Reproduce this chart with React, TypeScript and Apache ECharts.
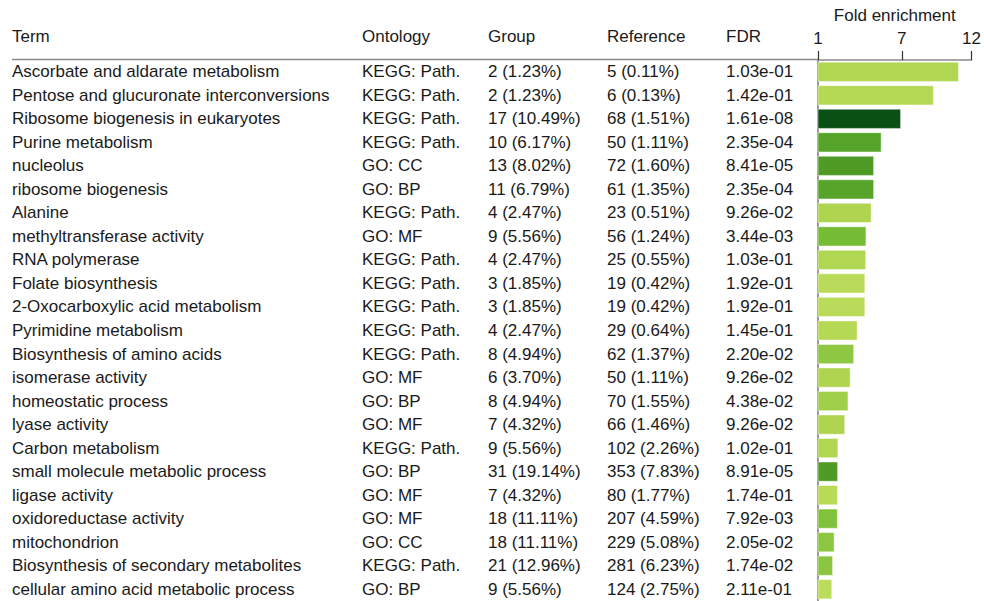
import React, { useEffect, useRef } from "react";
import * as echarts from "echarts";

const terms = [
  "Ascorbate and aldarate metabolism",
  "Pentose and glucuronate interconversions",
  "Ribosome biogenesis in eukaryotes",
  "Purine metabolism",
  "nucleolus",
  "ribosome biogenesis",
  "Alanine",
  "methyltransferase activity",
  "RNA polymerase",
  "Folate biosynthesis",
  "2-Oxocarboxylic acid metabolism",
  "Pyrimidine metabolism",
  "Biosynthesis of amino acids",
  "isomerase activity",
  "homeostatic process",
  "lyase activity",
  "Carbon metabolism",
  "small molecule metabolic process",
  "ligase activity",
  "oxidoreductase activity",
  "mitochondrion",
  "Biosynthesis of secondary metabolites",
  "cellular amino acid metabolic process",
];

const ontologies = [
  "KEGG: Path.", "KEGG: Path.", "KEGG: Path.", "KEGG: Path.", "GO: CC", "GO: BP",
  "KEGG: Path.", "GO: MF", "KEGG: Path.", "KEGG: Path.", "KEGG: Path.", "KEGG: Path.",
  "KEGG: Path.", "GO: MF", "GO: BP", "GO: MF", "KEGG: Path.", "GO: BP", "GO: MF",
  "GO: MF", "GO: CC", "KEGG: Path.", "GO: BP",
];

const groupCounts = [
  "2 (1.23%)", "2 (1.23%)", "17 (10.49%)", "10 (6.17%)", "13 (8.02%)", "11 (6.79%)",
  "4 (2.47%)", "9 (5.56%)", "4 (2.47%)", "3 (1.85%)", "3 (1.85%)", "4 (2.47%)",
  "8 (4.94%)", "6 (3.70%)", "8 (4.94%)", "7 (4.32%)", "9 (5.56%)", "31 (19.14%)",
  "7 (4.32%)", "18 (11.11%)", "18 (11.11%)", "21 (12.96%)", "9 (5.56%)",
];

const referenceCounts = [
  "5 (0.11%)", "6 (0.13%)", "68 (1.51%)", "50 (1.11%)", "72 (1.60%)", "61 (1.35%)",
  "23 (0.51%)", "56 (1.24%)", "25 (0.55%)", "19 (0.42%)", "19 (0.42%)", "29 (0.64%)",
  "62 (1.37%)", "50 (1.11%)", "70 (1.55%)", "66 (1.46%)", "102 (2.26%)", "353 (7.83%)",
  "80 (1.77%)", "207 (4.59%)", "229 (5.08%)", "281 (6.23%)", "124 (2.75%)",
];

const fdrLabels = [
  "1.03e-01", "1.42e-01", "1.61e-08", "2.35e-04", "8.41e-05", "2.35e-04",
  "9.26e-02", "3.44e-03", "1.03e-01", "1.92e-01", "1.92e-01", "1.45e-01",
  "2.20e-02", "9.26e-02", "4.38e-02", "9.26e-02", "1.02e-01", "8.91e-05",
  "1.74e-01", "7.92e-03", "2.05e-02", "1.74e-02", "2.11e-01",
];

const foldEnrichment = [
  11.1, 9.3, 6.95, 5.56, 5.02, 5.02, 4.84, 4.47, 4.45, 4.39, 4.39, 3.84,
  3.59, 3.34, 3.18, 2.95, 2.46, 2.44, 2.43, 2.42, 2.19, 2.08, 2.02,
];

const xTicks = [1, 7, 12];

const headers = ["Term", "Ontology", "Group", "Reference", "FDR"];

// colour scale over -log10(FDR)
const colorStops: [number, string][] = [
  [0.68, "#bcdc5b"],
  [0.76, "#b8da57"],
  [1.0, "#b1d651"],
  [1.36, "#a0cf4a"],
  [1.66, "#8ec742"],
  [2.1, "#80c23c"],
  [2.46, "#76bd35"],
  [3.63, "#56a52a"],
  [4.07, "#4f9b25"],
  [7.8, "#0a4f14"],
];

function hexToRgb(h: string) {
  const n = parseInt(h.slice(1), 16);
  return [(n >> 16) & 255, (n >> 8) & 255, n & 255];
}

function fdrColor(fdr: number) {
  const v = -Math.log10(fdr);
  if (v <= colorStops[0][0]) return colorStops[0][1];
  for (let i = 1; i < colorStops.length; i++) {
    const [x1, c1] = colorStops[i];
    const [x0, c0] = colorStops[i - 1];
    if (v <= x1) {
      const t = (v - x0) / (x1 - x0);
      const a = hexToRgb(c0);
      const b = hexToRgb(c1);
      const r = a.map((ai, k) => Math.round(ai + (b[k] - ai) * t));
      return `rgb(${r[0]},${r[1]},${r[2]})`;
    }
  }
  return colorStops[colorStops.length - 1][1];
}

const FONT = "'Liberation Sans', Arial, Helvetica, sans-serif";
const TEXT = "#1a1a1a";
const FS = 17;

export default function App() {
  const ref = useRef<HTMLDivElement>(null);

  useEffect(() => {
    if (!ref.current) return;
    const chart = echarts.init(ref.current, undefined, { renderer: "svg" });

    const gridLeft = 818;
    const colX = [12, 362, 488, 607, 726];
    const widths = colX.map((x, i) => (i < colX.length - 1 ? colX[i + 1] - x : 90));

    const rich: any = {};
    ["t", "o", "g", "r", "f"].forEach((k, i) => {
      rich[k] = {
        width: widths[i],
        align: "left",
        fontSize: FS,
        fontFamily: FONT,
        color: TEXT,
      };
    });

    const option: any = {
      animation: false,
      backgroundColor: "#ffffff",
      textStyle: { fontFamily: FONT },
      grid: { left: gridLeft, right: 6, top: 60, bottom: 0, containLabel: false },
      xAxis: {
        type: "value",
        position: "top",
        min: 1,
        max: 12,
        name: "Fold enrichment",
        nameLocation: "middle",
        nameGap: 36,
        nameTextStyle: { fontSize: FS, color: TEXT, fontFamily: FONT },
        axisLine: { show: true, lineStyle: { color: "#8a8a8a", width: 1.5 } },
        axisTick: { show: true, customValues: xTicks, length: 9, lineStyle: { color: "#333", width: 1.2 } },
        axisLabel: { customValues: xTicks, fontSize: FS, color: TEXT, margin: 13, fontFamily: FONT },
        splitLine: { show: false },
      },
      yAxis: {
        type: "category",
        inverse: true,
        data: terms,
        axisLine: { show: true, lineStyle: { color: "#9a9a9a", width: 2 } },
        axisTick: { show: false },
        axisLabel: {
          align: "left",
          margin: gridLeft - colX[0],
          formatter: (_v: string, i: number) =>
            `{t|${terms[i]}}{o|${ontologies[i]}}{g|${groupCounts[i]}}{r|${referenceCounts[i]}}{f|${fdrLabels[i]}}`,
          rich,
        },
      },
      series: [
        {
          type: "bar",
          barCategoryGap: "14%",
          data: foldEnrichment.map((v, i) => ({
            value: v,
            itemStyle: { color: fdrColor(parseFloat(fdrLabels[i])) },
          })),
          itemStyle: { borderColor: "rgba(255,255,255,0.45)", borderWidth: 1 },
        },
      ],
      graphic: [
        {
          type: "line",
          shape: { x1: 12, y1: 59.5, x2: gridLeft, y2: 59.5 },
          style: { stroke: "#8a8a8a", lineWidth: 1.5 },
        },
        ...headers.map((h, i) => ({
          type: "text",
          x: colX[i],
          y: 36,
          style: {
            text: h,
            fontSize: FS,
            fontFamily: FONT,
            fill: TEXT,
            textAlign: "left",
            textVerticalAlign: "middle",
          },
        })),
      ],
    };

    chart.setOption(option);
    return () => chart.dispose();
  }, []);

  return (
    <div
      ref={ref}
      style={{ position: "fixed", left: 0, top: 0, width: 984, height: 601, background: "#fff" }}
    />
  );
}
